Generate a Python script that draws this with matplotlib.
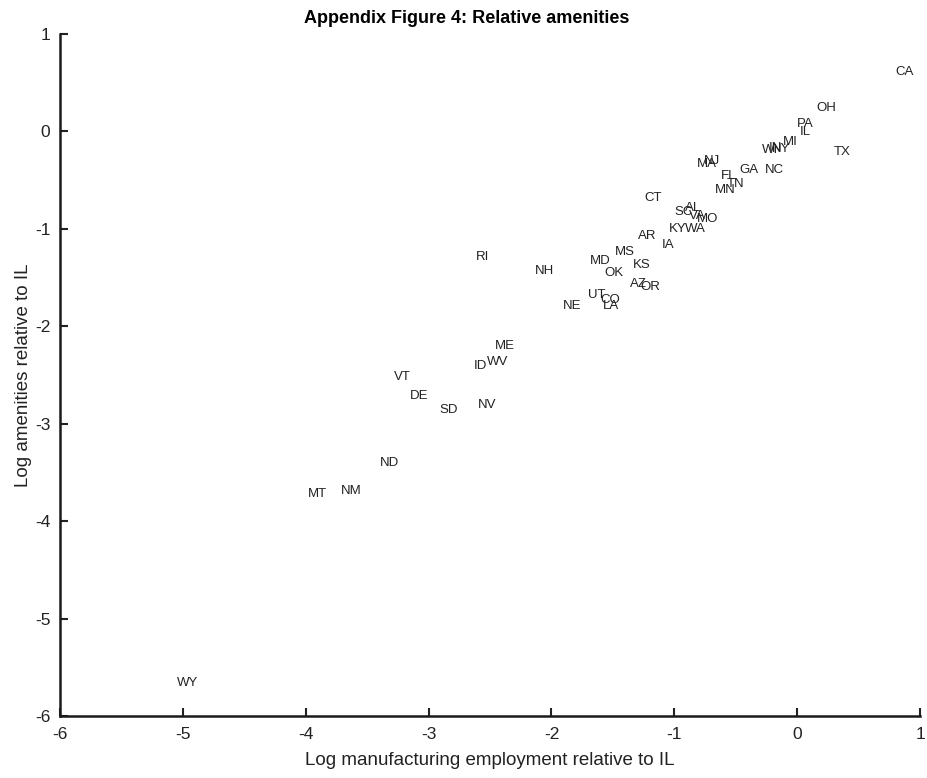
import numpy as np
import matplotlib
matplotlib.use("Agg")
import matplotlib.pyplot as plt

# state labels, log manufacturing employment and log amenities (relative to IL)
states = ["CA", "OH", "PA", "IL", "MI", "WI", "IN", "NY", "TX", "NC",
          "GA", "MA", "NJ", "FL", "TN", "MN", "CT", "SC", "AL", "VA",
          "MO", "KY", "WA", "AR", "IA", "MS", "MD", "OK", "KS", "AZ",
          "OR", "UT", "CO", "LA", "NE", "NH", "RI", "ME", "ID", "WV",
          "VT", "DE", "SD", "NV", "ND", "MT", "NM", "WY"]
log_manuf = [0.796, 0.153, -0.004, 0.023, -0.115, -0.286, -0.229, -0.205, 0.300, -0.262,
             -0.473, -0.815, -0.758, -0.620, -0.571, -0.669, -1.247, -1.003, -0.913, -0.880,
             -0.815, -1.044, -0.913, -1.295, -1.100, -1.483, -1.686, -1.572, -1.336, -1.361,
             -1.279, -1.702, -1.605, -1.580, -1.906, -2.134, -2.614, -2.459, -2.630, -2.525,
             -3.281, -3.151, -2.915, -2.598, -3.395, -3.981, -3.713, -5.048]
log_amen = [0.610, 0.237, 0.073, -0.006, -0.108, -0.191, -0.170, -0.180, -0.211, -0.396,
            -0.396, -0.334, -0.303, -0.457, -0.540, -0.601, -0.683, -0.827, -0.786, -0.868,
            -0.899, -1.001, -1.001, -1.073, -1.166, -1.238, -1.330, -1.453, -1.371, -1.566,
            -1.597, -1.679, -1.730, -1.792, -1.792, -1.432, -1.289, -2.202, -2.408, -2.367,
            -2.520, -2.716, -2.859, -2.808, -3.403, -3.721, -3.690, -5.661]

plt.rcParams['font.family'] = ['Liberation Sans', 'DejaVu Sans']
plt.rcParams['axes.unicode_minus'] = False

fig = plt.figure(figsize=(9.27, 7.78), dpi=100)
ax = fig.add_axes([0.0647, 0.0797, 0.9278, 0.8766])

for s, x, y in zip(states, log_manuf, log_amen):
    ax.text(x, y, s, ha='left', va='center', fontsize=9.5, color='#222222')

ax.set_xlim(-6, 1)
ax.set_ylim(-6, 1)
ax.set_xticks(np.arange(-6, 2))
ax.set_yticks(np.arange(-6, 2))
ax.tick_params(direction='in', length=6, width=1.5, labelsize=12.5, colors='#222222')
ax.tick_params(axis='x', pad=8)
ax.tick_params(axis='y', pad=7)
for side in ['top', 'right']:
    ax.spines[side].set_visible(False)
for side in ['left', 'bottom']:
    ax.spines[side].set_linewidth(1.8)
    ax.spines[side].set_color('#1a1a1a')

ax.set_xlabel("Log manufacturing employment relative to IL", fontsize=13.5, color='#222222', labelpad=7)
ax.set_ylabel("Log amenities relative to IL", fontsize=13.5, color='#222222', labelpad=2)
ax.set_title("Appendix Figure 4: Relative amenities", fontsize=13, fontweight='bold', pad=8, x=0.473)

fig.savefig("out.png", dpi=100)
